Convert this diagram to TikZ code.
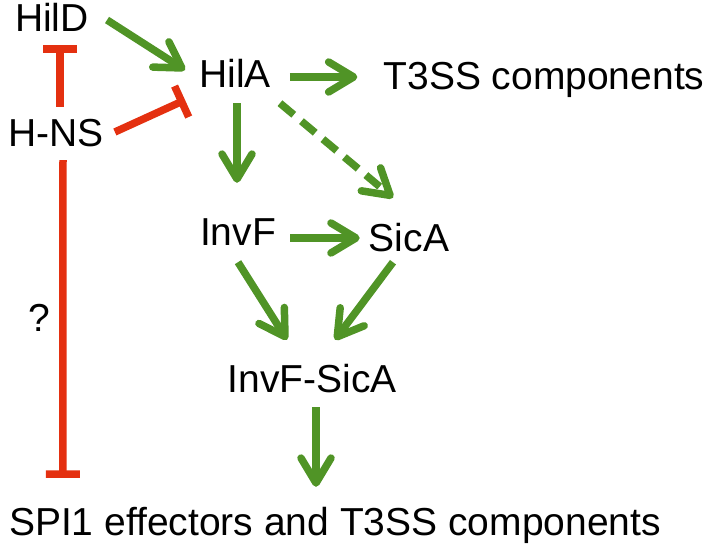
\documentclass[tikz,border=0pt]{standalone}
\usepackage{fontspec}
\setmainfont{Liberation Sans}
\usepackage{xcolor}
\usepackage{tikz}
\usetikzlibrary{arrows.meta}
\definecolor{pathgreen}{RGB}{80,148,38}
\definecolor{pathred}{RGB}{228,48,16}

\begin{document}
\begin{tikzpicture}[x=1pt, y=1pt,
  gene/.style={inner sep=0pt, text height=28pt, text depth=0pt, font=\fontsize{39}{47}\selectfont},
  act/.style={line width=7.5pt, pathgreen, -{Straight Barb[length=25pt, width=30pt, round]}},
  rep/.style={line width=7.5pt, pathred, -{Bar[width=34pt]}}]
  \useasboundingbox (0,0) rectangle (710,546);
  % regulators and targets
  \node[gene] (hild) at (52,528) {HilD};
  \node[gene] (hns) at (56,413) {H-NS};
  \node[gene] (hila) at (235,472) {HilA};
  \node[gene] (t3ss) at (544,470) {T3SS components};
  \node[gene] (invf) at (238,314) {InvF};
  \node[gene] (sica) at (409,308) {SicA};
  \node[gene] (invfsica) at (312,167) {InvF-SicA};
  \node[gene] (spi) at (335,24) {SPI1 effectors and T3SS components};
  \node[gene] (unknown) at (39,228) {?};
  % activation
  \draw[act] ([shift={(18,-2)}]hild.east) -- ([shift={(-14,4)}]hila.west);
  \draw[act] ([shift={(19,-3)}]hila.east) -- ([shift={(-26,-1)}]t3ss.west);
  \draw[act] ([shift={(2,-15)}]hila.south) -- ([shift={(-1,35)}]invf.north);
  \draw[act, dash pattern=on 18pt off 10pt] ([shift={(9,-15)}]hila.south east) -- ([shift={(-16,26)}]sica.north);
  \draw[act] ([shift={(14,-6)}]invf.east) -- ([shift={(-9,0)}]sica.west);
  \draw[act] ([shift={(0,-16)}]invf.south) -- ([shift={(-25,25)}]invfsica.north);
  \draw[act] ([shift={(-16,-10)}]sica.south) -- ([shift={(23,25)}]invfsica.north);
  \draw[act] ([shift={(4,-14)}]invfsica.south) -- ([shift={(-19,21)}]spi.north);
  % repression by H-NS
  \draw[rep] ([shift={(4,12)}]hns.north) -- ([shift={(8,-13)}]hild.south);
  \draw[rep] ([shift={(11,1)}]hns.east) -- ([shift={(-14,-26)}]hila.west);
  \draw[rep] ([shift={(7,-13)}]hns.south) -- ([shift={(54,30)}]spi.north west);
\end{tikzpicture}
\end{document}
